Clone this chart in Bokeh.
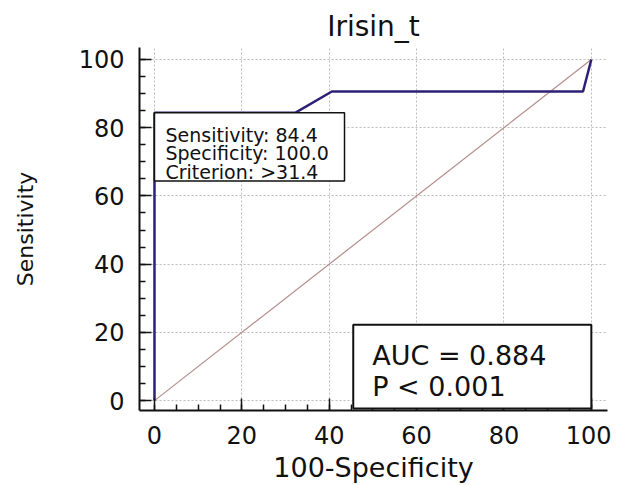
from bokeh.plotting import figure
from bokeh.models import BoxAnnotation, Label, SingleIntervalTicker, Range1d
from bokeh.embed import file_html
from bokeh.resources import INLINE

# ---- data ----
title_text = "Irisin_t"
x_label = "100-Specificity"
y_label = "Sensitivity"
roc_x = [0, 0, 32.3, 40.6, 98.1, 100]
roc_y = [0, 84.4, 84.4, 90.6, 90.6, 100]
diag_x = [0, 100]
diag_y = [0, 100]
crit_lines = ["Sensitivity: 84.4", "Specificity: 100.0", "Criterion: >31.4"]
auc_lines = ["AUC = 0.884", "P < 0.001"]
crit_sens = 84.4

FONT = "DejaVu Sans"

p = figure(width=611, height=485, output_backend="svg", toolbar_location=None,
           x_range=Range1d(-3.43, 103.7), y_range=Range1d(-2.9, 103.5),
           min_border_left=139, min_border_right=4, min_border_top=47, min_border_bottom=73)
p.outline_line_color = None
p.background_fill_color = "white"
p.border_fill_color = "white"

p.title.text = title_text
p.title.align = "center"
p.title.text_font = FONT
p.title.text_font_size = "28px"
p.title.text_font_style = "normal"
p.title.text_color = "#111111"

for ax, lab in ((p.xaxis[0], x_label), (p.yaxis[0], y_label)):
    ax.ticker = SingleIntervalTicker(interval=20, num_minor_ticks=4)
    ax.axis_label = lab
    ax.axis_label_text_font = FONT
    ax.axis_label_text_font_style = "normal"
    ax.axis_label_text_color = "#111111"
    ax.major_label_text_font = FONT
    ax.major_label_text_font_size = "24px"
    ax.major_label_text_color = "#111111"
    ax.axis_line_width = 2
    ax.axis_line_color = "#111111"
    ax.major_tick_line_color = "#111111"
    ax.minor_tick_line_color = "#111111"
    ax.major_tick_line_width = 1.5
    ax.minor_tick_line_width = 1.5
    ax.major_tick_in = 12
    ax.major_tick_out = 0
    ax.minor_tick_in = 6
    ax.minor_tick_out = 0

p.xaxis.axis_label_text_font_size = "27px"
p.xaxis.major_label_standoff = 15
p.xaxis.axis_label_standoff = 5
p.yaxis.axis_label_text_font_size = "22px"
p.yaxis.major_label_standoff = 15
p.yaxis.axis_label_standoff = 38

for g in (p.xgrid[0], p.ygrid[0]):
    g.ticker = SingleIntervalTicker(interval=20)
    g.grid_line_color = "#bdbdbd"
    g.grid_line_dash = "2 2"
    g.grid_line_width = 1

p.line(diag_x, diag_y, line_color="#b58c8c", line_width=1.2)
p.line(roc_x, roc_y, line_color="#2d2078", line_width=2.5)

# criterion box
b1_left, b1_right, b1_bottom = 0, 43.5, 64.4
p.add_layout(BoxAnnotation(left=b1_left, right=b1_right, top=crit_sens, bottom=b1_bottom,
                           fill_color="white", fill_alpha=1, line_color="#111111",
                           line_alpha=1, line_width=1.5))
for t, off in zip(crit_lines, [22, 40, 59]):
    p.add_layout(Label(x=b1_left, y=crit_sens, x_offset=11, y_offset=-off, text=t,
                       text_font=FONT, text_font_size="19px", text_color="#111111",
                       text_baseline="alphabetic"))

# AUC box
b2_left, b2_right, b2_top, b2_bottom = 45.5, 100, 22.2, -2.3
p.add_layout(BoxAnnotation(left=b2_left, right=b2_right, top=b2_top, bottom=b2_bottom,
                           fill_color="white", fill_alpha=1, line_color="#111111",
                           line_alpha=1, line_width=2))
for t, off in zip(auc_lines, [31, 62]):
    p.add_layout(Label(x=b2_left, y=b2_top, x_offset=19, y_offset=-off, text=t,
                       text_font=FONT, text_font_size="27px", text_color="#111111",
                       text_baseline="alphabetic"))

open("out.html", "w").write(file_html(p, INLINE))
